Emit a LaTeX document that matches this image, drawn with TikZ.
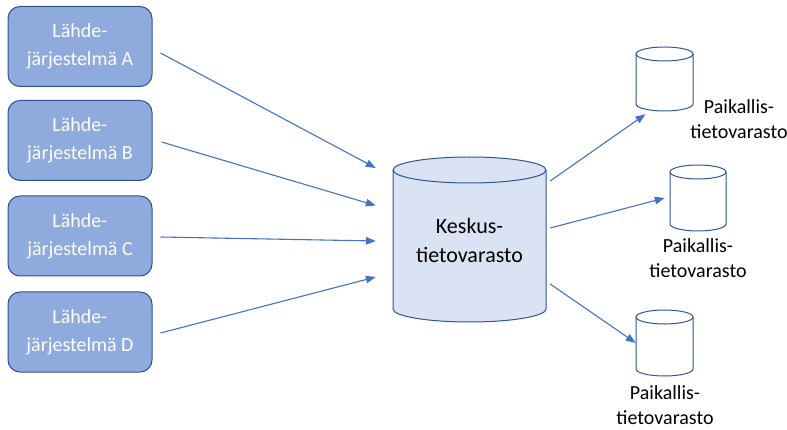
\documentclass[tikz,border=0pt]{standalone}
\usepackage{fontspec}
\setmainfont{Carlito}
\usetikzlibrary{arrows.meta}

\definecolor{srcfill}{HTML}{8FAADC}
\definecolor{srcline}{HTML}{2F528F}
\definecolor{hubfill}{HTML}{DAE3F3}
\definecolor{cylline}{HTML}{2F5597}
\definecolor{arrowblue}{HTML}{4472C4}

% Cylinder: centre x, top y, bottom y, x radius, y radius, fill (y measured downwards)
\newcommand\drumshape[6]{%
  \filldraw[cylstroke, fill=#6]
    ({#1-#4},{-(#2+#5)}) -- ({#1-#4},{-(#3-#5)})
    arc[start angle=180, end angle=360, x radius=#4pt, y radius=#5pt]
    -- ({#1+#4},{-(#2+#5)})
    arc[start angle=0, end angle=180, x radius=#4pt, y radius=#5pt] -- cycle;
  \draw[cylstroke] ({#1-#4},{-(#2+#5)})
    arc[start angle=180, end angle=360, x radius=#4pt, y radius=#5pt];
}

\tikzset{
  srcbox/.style={draw=srcline, fill=srcfill, line width=1pt, rounded corners=12pt,
    minimum width=144pt, minimum height=80pt, align=center, text=white,
    font=\fontsize{20}{28}\selectfont},
  cylstroke/.style={draw=cylline, line width=1pt},
  hubtext/.style={align=center, font=\fontsize{22}{29}\selectfont},
  localtext/.style={align=center, font=\fontsize{20}{25}\selectfont},
  shapearea/.style={inner sep=0pt, draw=none},
  flow/.style={draw=arrowblue, line width=1.1pt, -{Triangle[length=10pt,width=7.5pt]}}
}

\begin{document}
\begin{tikzpicture}[x=1pt,y=1pt]
\path[use as bounding box] (0,0) rectangle (787,-430);

% source systems
\node[srcbox] (A) at (80,-46.5) {Lähde-\\järjestelmä A};
\node[srcbox] (B) at (80,-140.5) {Lähde-\\järjestelmä B};
\node[srcbox] (C) at (80,-236) {Lähde-\\järjestelmä C};
\node[srcbox] (D) at (80,-332) {Lähde-\\järjestelmä D};

% central warehouse
\drumshape{469.5}{157}{322}{76.5}{13}{hubfill}
\node[shapearea, minimum width=153pt, minimum height=165pt] (K) at (469.5,-239.5) {};
\node[hubtext] (Ktext) at (469.5,-240) {Keskus-\\tietovarasto};

% local stores
\drumshape{664.5}{47}{111}{28.5}{7}{white}
\node[shapearea, minimum width=57pt, minimum height=64pt] (L1) at (664.5,-79) {};
\drumshape{698}{165}{231}{28}{7}{white}
\node[shapearea, minimum width=56pt, minimum height=66pt] (L2) at (698,-198) {};
\drumshape{664.5}{310}{376}{28.5}{7}{white}
\node[shapearea, minimum width=57pt, minimum height=66pt] (L3) at (664.5,-343) {};

\node[localtext] (T1) at (739,-119) {Paikallis-\\tietovarasto};
\node[localtext] (T2) at (698,-258) {Paikallis-\\tietovarasto};
\node[localtext] (T3) at (665,-405) {Paikallis-\\tietovarasto};

% loads into the central warehouse
\draw[flow] ([xshift=8pt,yshift=-6.5pt]A.east) -- ([xshift=-17pt,yshift=71.5pt]K.west);
\draw[flow] ([xshift=9pt,yshift=-1.5pt]B.east) -- ([xshift=-17pt,yshift=34pt]K.west);
\draw[flow] ([xshift=8pt,yshift=-1pt]C.east) -- ([xshift=-17pt,yshift=-1.5pt]K.west);
\draw[flow] ([xshift=8pt,yshift=-1pt]D.east) -- ([xshift=-17pt,yshift=-37.5pt]K.west);

% distribution to local stores
\draw[flow] ([xshift=4pt,yshift=58.5pt]K.east) -- ([xshift=-19pt,yshift=-3pt]L1.south);
\draw[flow] ([xshift=4pt,yshift=11.5pt]K.east) -- ([xshift=-5pt,yshift=0pt]L2.west);
\draw[flow] ([xshift=4pt,yshift=-44.5pt]K.east) -- ([xshift=0pt,yshift=0pt]L3.west);
\end{tikzpicture}
\end{document}
